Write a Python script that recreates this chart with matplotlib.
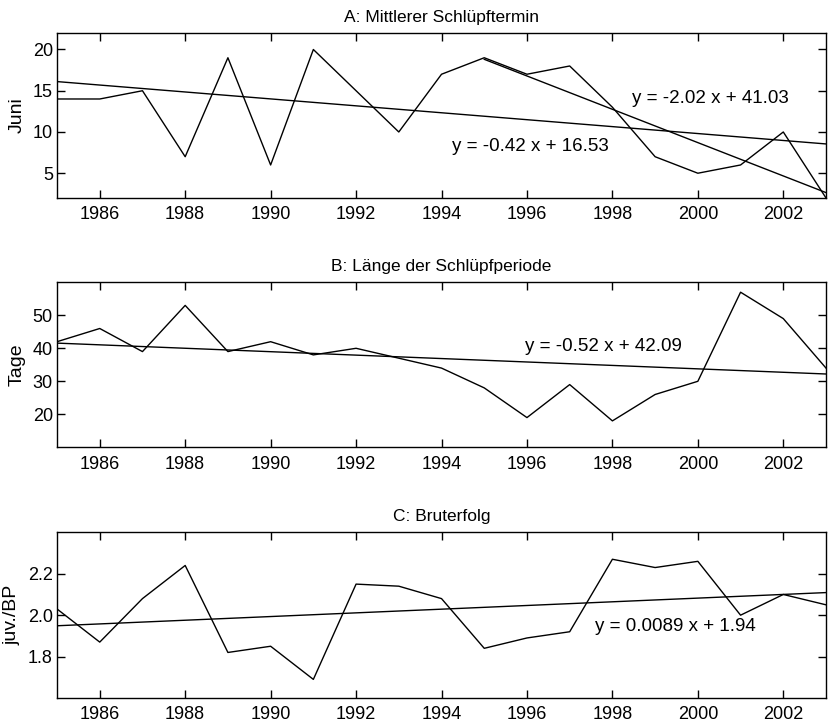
import numpy as np
import matplotlib.pyplot as plt

plt.rcParams['font.family'] = ['Liberation Sans', 'DejaVu Sans']

jahre = np.arange(1985, 2004)

# A: Mittlerer Schlüpftermin (Tag im Juni)
schlupf = [14, 14, 15, 7, 19, 6, 20, 15, 10, 17, 19, 17, 18, 13, 7, 5, 6, 10, 2]
# B: Länge der Schlüpfperiode (Tage)
laenge = [42, 46, 39, 53, 39, 42, 38, 40, 37, 34, 28, 19, 29, 18, 26, 30, 57, 49, 34]
# C: Bruterfolg (juv./BP)
bruterfolg = [2.03, 1.87, 2.08, 2.24, 1.82, 1.85, 1.69, 2.15, 2.14, 2.08,
              1.84, 1.89, 1.92, 2.27, 2.23, 2.26, 2.00, 2.10, 2.05]

# Regressionen (x = Jahr - 1984)
reg_a = (-0.42, 16.53)
reg_a2 = (-2.02, 41.03)   # nur ab 1995
reg_b = (-0.52, 42.09)
reg_c = (0.0089, 1.94)

x_idx = jahre - 1984

fig = plt.figure(figsize=(8.3, 7.22), dpi=100)
L, W = 0.0687, 0.9265
ax_a = fig.add_axes([L, 0.7258, W, 0.2285])
ax_b = fig.add_axes([L, 0.3805, W, 0.2285])
ax_c = fig.add_axes([L, 0.0332, W, 0.2295])

fs = 13.5
lw = 1.0

def style(ax, title, ylabel, ylim, yticks, yfmt=None):
    ax.set_xlim(1985, 2003)
    ax.set_ylim(*ylim)
    ax.set_xticks(np.arange(1986, 2003, 2))
    ax.set_yticks(yticks)
    if yfmt:
        ax.set_yticklabels([yfmt % v for v in yticks])
    ax.tick_params(direction='in', top=True, right=True, length=6,
                   width=1, labelsize=13)
    ax.tick_params(axis='x', pad=6)
    ax.tick_params(axis='y', pad=3)
    ax.set_title(title, fontsize=12.5, pad=8)
    ax.set_ylabel(ylabel, fontsize=14, labelpad=5)
    for s in ax.spines.values():
        s.set_linewidth(1.0)

# Panel A
ax_a.plot(jahre, schlupf, color='black', lw=lw)
ax_a.plot(jahre, reg_a[0] * x_idx + reg_a[1], color='black', lw=lw)
m = jahre >= 1995
ax_a.plot(jahre[m], reg_a2[0] * x_idx[m] + reg_a2[1], color='black', lw=lw)
ax_a.text(1998.45, 14.1, 'y = -2.02 x + 41.03', fontsize=fs, va='center')
ax_a.text(1994.25, 8.2, 'y = -0.42 x + 16.53', fontsize=fs, va='center')
style(ax_a, 'A: Mittlerer Schlüpftermin', 'Juni', (2, 22), [5, 10, 15, 20])

# Panel B
ax_b.plot(jahre, laenge, color='black', lw=lw)
ax_b.plot(jahre, reg_b[0] * x_idx + reg_b[1], color='black', lw=lw)
ax_b.text(1995.95, 40.5, 'y = -0.52 x + 42.09', fontsize=fs, va='center')
style(ax_b, 'B: Länge der Schlüpfperiode', 'Tage', (10, 60), [20, 30, 40, 50])

# Panel C
ax_c.plot(jahre, bruterfolg, color='black', lw=lw)
ax_c.plot(jahre, reg_c[0] * x_idx + reg_c[1], color='black', lw=lw)
ax_c.text(1997.6, 1.943, 'y = 0.0089 x + 1.94', fontsize=fs, va='center')
style(ax_c, 'C: Bruterfolg', 'juv./BP', (1.6, 2.4), [1.8, 2.0, 2.2], '%.1f')

fig.savefig('out.png', dpi=100)
